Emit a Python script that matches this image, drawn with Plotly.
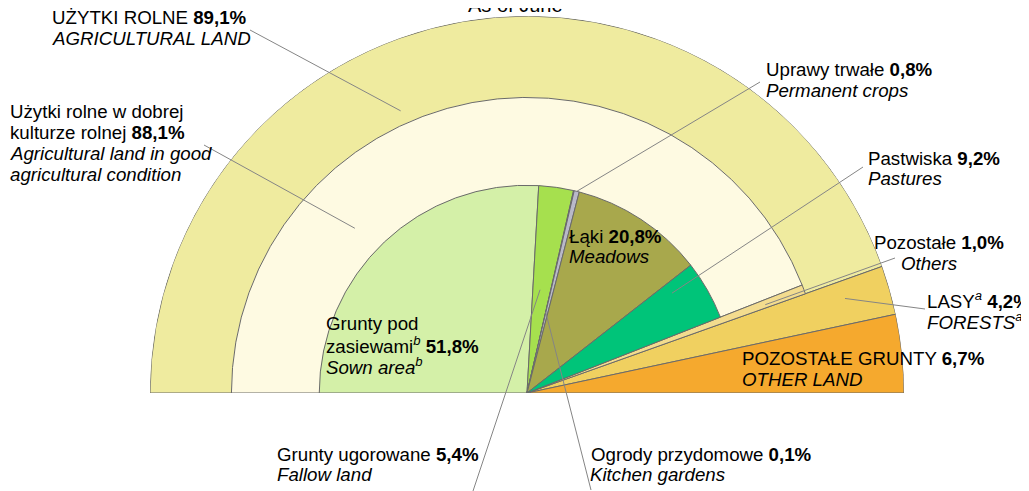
import math
import plotly.graph_objects as go

# The page body adds an 8px margin; size the figure so it fits the 1029x491 window.
PAGE_MARGIN = 8
SW, SH = 1029, 491
W, H = SW - PAGE_MARGIN, SH - PAGE_MARGIN

# ---------------- data ----------------
outer_labels = ["Użytki rolne", "Lasy", "Pozostałe grunty"]
outer_values = [89.1, 4.2, 6.7]

middle_labels = ["Użytki rolne w dobrej kulturze rolnej", "Pozostałe"]
middle_values = [88.1, 1.0]

inner_labels = ["Grunty pod zasiewami", "Grunty ugorowane", "Ogrody przydomowe",
                "Uprawy trwałe", "Łąki", "Pastwiska"]
inner_values = [51.8, 5.4, 0.1, 0.8, 20.8, 9.2]

title_text = "As of June"

# ---------------- styling ----------------
outer_colors = ["#EFEB9F", "#F0D060", "#F5A92E"]
middle_colors = ["#FEFAE2", "#F3DC8E"]
inner_colors = ["#D4F0A8", "#A6E04E", "#7F7F7F", "#B9B9C9", "#A8A84C", "#00C479"]
ring_radius = {"outer": 1.0, "middle": 0.784, "inner": 0.551}
EDGE = "#6A6A6A"
FONT = "Liberation Sans, Arial, sans-serif"
FS = 18.7

# polar geometry in screen pixels
CX, CY, R = 527, 393, 377
DEG_PER_PCT = 180 / 100.0


def pct(v):
    return f"{v:.1f}".replace(".", ",") + "%"


def ring_trace(values, colors, radius, labels):
    starts, acc = [], 0.0
    for v in values:
        starts.append(acc)
        acc += v
    theta = [(s + v / 2) * DEG_PER_PCT for s, v in zip(starts, values)]
    width = [v * DEG_PER_PCT for v in values]
    return go.Barpolar(
        r=[radius] * len(values), theta=theta, width=width,
        marker=dict(color=colors, line=dict(color=EDGE, width=1)),
        text=labels, hoverinfo="text", showlegend=False,
    )


fig = go.Figure()
fig.add_trace(ring_trace(outer_values, outer_colors, ring_radius["outer"], outer_labels))
fig.add_trace(ring_trace(middle_values, middle_colors, ring_radius["middle"], middle_labels))
fig.add_trace(ring_trace(inner_values, inner_colors, ring_radius["inner"], inner_labels))


def to_paper(px, py):
    return (px - PAGE_MARGIN) / W, 1 - (py - PAGE_MARGIN) / H


def polar_px(rfrac, pct_pos):
    ang = math.radians(180 - pct_pos * DEG_PER_PCT)
    return CX + rfrac * R * math.cos(ang), CY - rfrac * R * math.sin(ang)


# leader lines: (label-end screen pixel, chart anchor as (radius fraction, percent position))
leaders = [
    ((250, 30), (0.82, 36.6)),
    ((204, 145), (0.632, 24.3)),
    ((760, 82), (0.55, 57.65)),
    ((863, 167), (0.467, 80.8)),
    ((895, 258), (0.674, 88.7)),
    ((925, 309), (0.88, 90.8)),
    ((473, 491), (0.276, 54.0)),
    ((591, 490), (0.22, 57.25)),
]
shapes = []
for (lx, ly), (rf, pp) in leaders:
    ex, ey = polar_px(rf, pp)
    x0, y0 = to_paper(lx, ly)
    x1, y1 = to_paper(ex, ey)
    shapes.append(dict(type="line", xref="paper", yref="paper", x0=x0, y0=y0, x1=x1, y1=y1,
                       line=dict(color="#858585", width=1)))

sa = "<sup><i>a</i></sup>"
sb = "<sup><i>b</i></sup>"
label_lines = [
    (52, 24, f"UŻYTKI ROLNE <b>{pct(outer_values[0])}</b>"),
    (52, 45, "<i>AGRICULTURAL LAND</i>"),
    (10, 118, "Użytki rolne w dobrej"),
    (10, 139, f"kulturze rolnej <b>{pct(middle_values[0])}</b>"),
    (10, 160, "<i>Agricultural land in good</i>"),
    (10, 181, "<i>agricultural condition</i>"),
    (766, 76, f"Uprawy trwałe <b>{pct(inner_values[3])}</b>"),
    (766, 97, "<i>Permanent crops</i>"),
    (868, 165, f"Pastwiska <b>{pct(inner_values[5])}</b>"),
    (868, 185, "<i>Pastures</i>"),
    (874, 249, f"Pozostałe <b>{pct(middle_values[1])}</b>"),
    (901, 270, "<i>Others</i>"),
    (927, 307, f"LASY{sa} <b>{pct(outer_values[1])}</b>"),
    (927, 328, f"<i>FORESTS</i>{sa}"),
    (742, 365, f"POZOSTAŁE GRUNTY <b>{pct(outer_values[2])}</b>"),
    (742, 386, "<i>OTHER LAND</i>"),
    (569, 243, f"Łąki <b>{pct(inner_values[4])}</b>"),
    (569, 263, "<i>Meadows</i>"),
    (326, 330, "Grunty pod"),
    (326, 352, f"zasiewami{sb} <b>{pct(inner_values[0])}</b>"),
    (326, 373, f"<i>Sown area</i>{sb}"),
    (277, 461, f"Grunty ugorowane <b>{pct(inner_values[1])}</b>"),
    (277, 481, "<i>Fallow land</i>"),
    (591, 461, f"Ogrody przydomowe <b>{pct(inner_values[2])}</b>"),
    (590, 481, "<i>Kitchen gardens</i>"),
]
annotations = []
for px, base, txt in label_lines:
    x, y = to_paper(px, base - 0.35 * FS)
    annotations.append(dict(x=x, y=y, xref="paper", yref="paper", text=txt, showarrow=False,
                            xanchor="left", yanchor="middle", borderpad=0, borderwidth=0,
                            font=dict(family=FONT, size=FS, color="#000000")))
tx, ty = to_paper(515, 5)
annotations.append(dict(x=tx, y=ty, xref="paper", yref="paper", text=title_text, showarrow=False,
                        xanchor="center", yanchor="middle", borderpad=0, borderwidth=0,
                        font=dict(family=FONT, size=20, color="#000000")))

dx0, dy1 = to_paper(CX - R, CY - R)
dx1, dy0 = to_paper(CX + R, CY)
fig.update_layout(
    width=W, height=H,
    margin=dict(l=0, r=0, t=0, b=0),
    paper_bgcolor="white", plot_bgcolor="white",
    polar=dict(
        domain=dict(x=[dx0, dx1], y=[dy0, dy1]),
        sector=[0, 180], hole=0, bgcolor="rgba(0,0,0,0)", barmode="overlay",
        radialaxis=dict(visible=False, range=[0, 1]),
        angularaxis=dict(visible=False, rotation=180, direction="clockwise", thetaunit="degrees"),
    ),
    shapes=shapes,
    annotations=annotations,
    showlegend=False,
)

fig.write_html("out.html")
